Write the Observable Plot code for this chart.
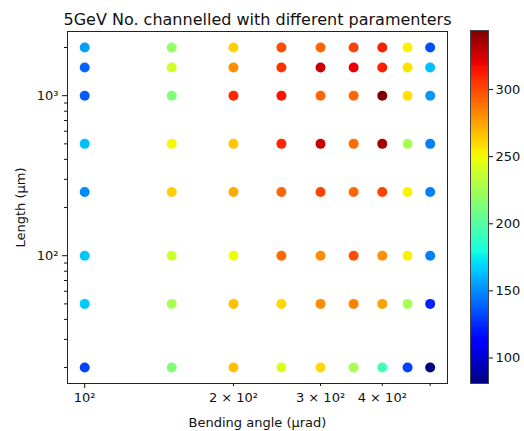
<!DOCTYPE html>
<html><head><meta charset="utf-8">
<script src="https://cdn.jsdelivr.net/npm/d3@7"></script>
<script src="https://cdn.jsdelivr.net/npm/@observablehq/plot@0.6"></script>
<style>
body{margin:0;background:#fff}
#wrap{position:relative;width:524px;height:431px;font-family:"DejaVu Sans",sans-serif}
#wrap svg{position:absolute;top:0}
</style>
</head><body><div id="wrap"></div>
<script>
const title = "5GeV No. channelled with different paramenters";
const angles = [100, 150, 200, 250, 300, 350, 400, 450, 500];
const lengths = [2000, 1500, 1000, 500, 250, 100, 50, 20];
// rows follow lengths, columns follow angles
const channelled = [
  [155, 220, 262, 299, 292, 302, 312, 253, 134],
  [140, 239, 281, 306, 327, 320, 312, 257, 163],
  [137, 214, 310, 315, 292, 292, 344, 258, 153],
  [163, 251, 265, 310, 327, 290, 335, 226, 147],
  [150, 263, 273, 292, 302, 292, 302, 253, 147],
  [165, 239, 250, 291, 281, 299, 280, 253, 147],
  [166, 226, 267, 260, 281, 284, 275, 226, 123],
  [131, 214, 267, 242, 260, 226, 194, 131, 81]
];
const xMajor = [100];
const xMinorLabelled = [200, 300, 400];
const xMinor = [500];
const yMajor = [100, 1000];
const yMinor = [20, 30, 40, 50, 60, 70, 80, 90, 200, 300, 400, 500, 600, 700, 800, 900, 2000];
const cbTicks = [100, 150, 200, 250, 300];

const table = [];
lengths.forEach((L, i) => angles.forEach((A, j) => table.push({angle: A, length: L, value: channelled[i][j]})));
const extent = d3.extent(table, d => d.value);

function seg(pts, t) {
  for (let k = 1; k < pts.length; k++) {
    if (t <= pts[k][0]) {
      const [t0, v0] = pts[k - 1], [t1, v1] = pts[k];
      return v0 + (v1 - v0) * (t - t0) / (t1 - t0);
    }
  }
  return pts[pts.length - 1][1];
}
function jet(t) {
  t = Math.max(0, Math.min(1, t));
  const r = seg([[0,0],[0.35,0],[0.66,1],[0.89,1],[1,0.5]], t);
  const g = seg([[0,0],[0.125,0],[0.375,1],[0.64,1],[0.91,0],[1,0]], t);
  const b = seg([[0,0.5],[0.11,1],[0.34,1],[0.65,0],[1,0]], t);
  return d3.rgb(r * 255, g * 255, b * 255).formatHex();
}
const colorScale = {type: "linear", domain: extent, interpolate: jet};
const sup = {2: "²", 3: "³"};
const blank = () => "";

const main = Plot.plot({
  width: 524, height: 431,
  marginTop: 31, marginLeft: 67, marginRight: 77, marginBottom: 48,
  style: {fontFamily: "DejaVu Sans, sans-serif", fontSize: "13px", color: "#111", background: "transparent"},
  x: {type: "log", domain: [92.3, 542]},
  y: {type: "log", domain: [15.9, 2518]},
  color: colorScale,
  marks: [
    Plot.frame({stroke: "#222"}),
    Plot.axisX({ticks: xMajor, tickSize: 5, tickPadding: 4, tickFormat: d => "10²", label: null, fontSize: 13}),
    Plot.axisX({ticks: xMinorLabelled, tickSize: 3, tickPadding: 6, tickFormat: d => `${d / 100} × 10²`, label: null, fontSize: 13}),
    Plot.axisX({ticks: xMinor, tickSize: 3, tickFormat: blank, label: "Bending angle (μrad)", labelAnchor: "center", labelArrow: "none", labelOffset: 43, fontSize: 13}),
    Plot.axisY({ticks: yMajor, tickSize: 5, tickPadding: 4, tickFormat: d => "10" + sup[Math.round(Math.log10(d))], label: null, fontSize: 13}),
    Plot.axisY({ticks: yMinor, tickSize: 3, tickFormat: blank, label: "Length (μm)", labelAnchor: "center", labelArrow: "none", labelOffset: 52, fontSize: 13}),
    Plot.dot(table, {x: "angle", y: "length", fill: "value", r: 5, stroke: null}),
    Plot.text([title], {frameAnchor: "top", dy: -18, fontSize: 16, fill: "#111"})
  ]
});
document.getElementById("wrap").appendChild(main);

const cb = Plot.plot({
  width: 64, height: 431,
  marginTop: 30, marginBottom: 48, marginLeft: 10, marginRight: 36,
  style: {fontFamily: "DejaVu Sans, sans-serif", fontSize: "13px", color: "#111", background: "transparent"},
  x: {domain: [0, 1], axis: null},
  y: {domain: extent},
  color: colorScale,
  marks: [
    Plot.raster({x1: 0, x2: 1, y1: extent[0], y2: extent[1], width: 1, height: 300, fill: (x, y) => y}),
    Plot.frame({stroke: "#444"}),
    Plot.axisY({anchor: "right", ticks: cbTicks, tickSize: 4, tickPadding: 3, label: null, fontSize: 13})
  ]
});
cb.style.left = "460px";
document.getElementById("wrap").appendChild(cb);
</script>
</body></html>
